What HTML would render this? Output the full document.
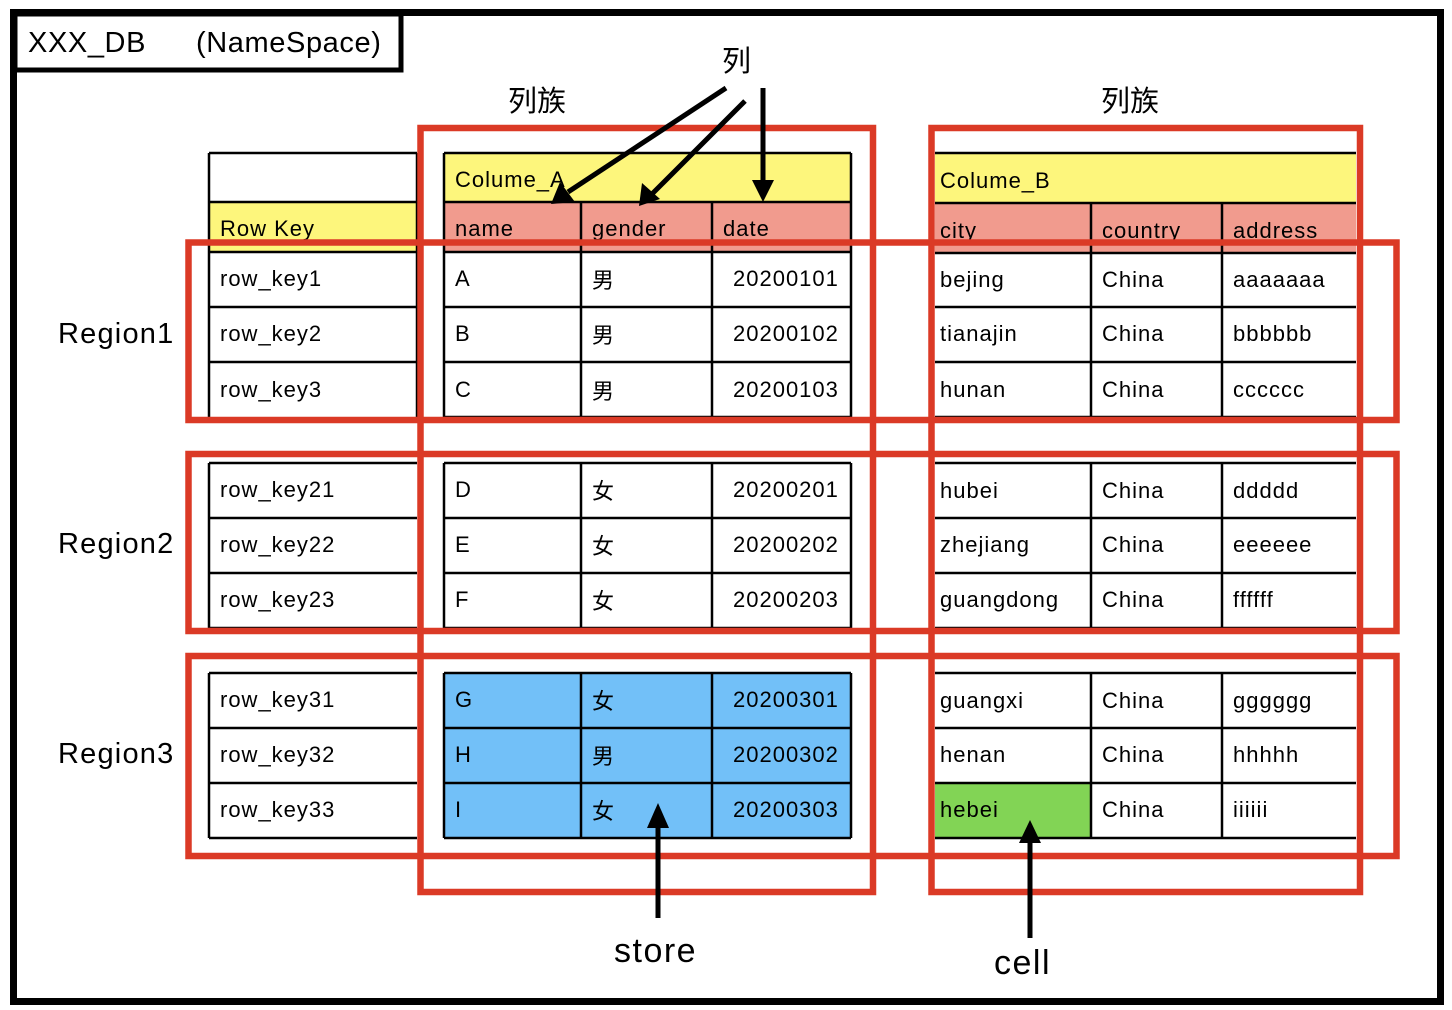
<!DOCTYPE html>
<html><head><meta charset="utf-8"><style>
html,body{margin:0;padding:0;background:#fff;}
svg{display:block;}
text{font-family:"Liberation Sans","Noto Sans CJK SC",sans-serif;fill:#000;}
</style></head><body>
<svg width="1452" height="1010" viewBox="0 0 1452 1010" xmlns="http://www.w3.org/2000/svg">
<rect x="0" y="0" width="1452" height="1010" fill="#fff"/>
<rect x="13.5" y="12.5" width="1427" height="989" fill="none" stroke="#000" stroke-width="7"/>
<rect x="15" y="14" width="386" height="56" fill="none" stroke="#000" stroke-width="5"/>
<text x="28" y="52" font-size="29" letter-spacing="0.6">XXX_DB</text>
<text x="196" y="52" font-size="29" letter-spacing="0.6">(NameSpace)</text>

<rect x="209" y="202" width="208" height="50" fill="#fdf67c"/>
<rect x="444" y="153" width="407" height="49" fill="#fdf67c"/>
<rect x="444" y="202" width="407" height="50" fill="#f19b8e"/>
<rect x="935" y="153" width="421" height="50" fill="#fdf67c"/>
<rect x="935" y="203" width="421" height="50" fill="#f19b8e"/>
<rect x="444" y="673" width="407" height="165" fill="#72c0f8"/>
<rect x="935" y="783" width="156" height="55" fill="#82d455"/>

<g stroke="#000" stroke-width="2.5" fill="none">
<path d="M209 153H417M209 202H417M209 252H417M209 307H417M209 362H417M209 153V417M417 153V417"/>
<path d="M209 463H417M209 518H417M209 573H417M209 628H417M209 463V628"/>
<path d="M209 673H417M209 728H417M209 783H417M209 838H417M209 673V838"/>
<path d="M444 153H851M444 202H851M444 252H851M444 307H851M444 362H851M444 417H851M444 153V417M581 202V417M712 202V417M851 153V417"/>
<path d="M444 463H851M444 518H851M444 573H851M444 628H851M444 463V628M581 463V628M712 463V628M851 463V628"/>
<path d="M444 673H851M444 728H851M444 783H851M444 838H851M444 673V838M581 673V838M712 673V838M851 673V838"/>
<path d="M935 153H1356M935 203H1356M935 253H1356M935 307H1356M935 362H1356M935 417H1356M1091 203V417M1222 203V417"/>
<path d="M935 463H1356M935 518H1356M935 573H1356M935 628H1356M1091 463V628M1222 463V628"/>
<path d="M935 673H1356M935 728H1356M935 783H1356M935 838H1356M1091 673V838M1222 673V838"/>
</g>

<g font-size="22" letter-spacing="1">
<text x="220" y="236">Row Key</text>
<text x="455" y="187">Colume_A</text>
<text x="455" y="236">name</text><text x="592" y="236">gender</text><text x="723" y="236">date</text>
<text x="940" y="188">Colume_B</text>
<text x="940" y="238">city</text><text x="1102" y="238">country</text><text x="1233" y="238">address</text>

<text x="220" y="286">row_key1</text><text x="220" y="341">row_key2</text><text x="220" y="397">row_key3</text>
<text x="220" y="497">row_key21</text><text x="220" y="552">row_key22</text><text x="220" y="607">row_key23</text>
<text x="220" y="707">row_key31</text><text x="220" y="762">row_key32</text><text x="220" y="817">row_key33</text>

<text x="455" y="286">A</text><text x="455" y="341">B</text><text x="455" y="397">C</text>
<text x="455" y="497">D</text><text x="455" y="552">E</text><text x="455" y="607">F</text>
<text x="455" y="707">G</text><text x="455" y="762">H</text><text x="455" y="817">I</text>

<text x="592" y="288">男</text><text x="592" y="343">男</text><text x="592" y="399">男</text>
<text x="592" y="499">女</text><text x="592" y="554">女</text><text x="592" y="609">女</text>
<text x="592" y="709">女</text><text x="592" y="764">男</text><text x="592" y="819">女</text>

<text x="733" y="286">20200101</text><text x="733" y="341">20200102</text><text x="733" y="397">20200103</text>
<text x="733" y="497">20200201</text><text x="733" y="552">20200202</text><text x="733" y="607">20200203</text>
<text x="733" y="707">20200301</text><text x="733" y="762">20200302</text><text x="733" y="817">20200303</text>

<text x="940" y="287">bejing</text><text x="940" y="341">tianajin</text><text x="940" y="397">hunan</text>
<text x="940" y="498">hubei</text><text x="940" y="552">zhejiang</text><text x="940" y="607">guangdong</text>
<text x="940" y="708">guangxi</text><text x="940" y="762">henan</text><text x="940" y="817">hebei</text>
<text x="1102" y="287">China</text><text x="1102" y="341">China</text><text x="1102" y="397">China</text>
<text x="1102" y="498">China</text><text x="1102" y="552">China</text><text x="1102" y="607">China</text>
<text x="1102" y="708">China</text><text x="1102" y="762">China</text><text x="1102" y="817">China</text>
<text x="1233" y="287">aaaaaaa</text><text x="1233" y="341">bbbbbb</text><text x="1233" y="397">cccccc</text>
<text x="1233" y="498">ddddd</text><text x="1233" y="552">eeeeee</text><text x="1233" y="607">ffffff</text>
<text x="1233" y="708">gggggg</text><text x="1233" y="762">hhhhh</text><text x="1233" y="817">iiiiii</text>
</g>

<g font-size="29">
<text x="58" y="343" letter-spacing="1.2">Region1</text>
<text x="58" y="553" letter-spacing="1.2">Region2</text>
<text x="58" y="763" letter-spacing="1.2">Region3</text>
<text x="508" y="111">列族</text>
<text x="1101" y="111">列族</text>
<text x="722" y="71">列</text>
</g>
<text x="614" y="962" font-size="34" letter-spacing="1.5">store</text>
<text x="994" y="974" font-size="34" letter-spacing="1.5">cell</text>

<g stroke="#db3a26" stroke-width="6.5" fill="none">
<rect x="420.5" y="128" width="452.5" height="764"/>
<rect x="931.5" y="128" width="428.5" height="764"/>
<rect x="188.5" y="242.5" width="1208" height="177.5"/>
<rect x="188.5" y="454" width="1208" height="177"/>
<rect x="188.5" y="656" width="1208" height="200"/>
</g>

<g stroke="#000" stroke-width="5" fill="none">
<line x1="726" y1="88" x2="568" y2="192"/>
<line x1="745" y1="101" x2="652" y2="194"/>
<line x1="763" y1="88" x2="763" y2="182"/>
<line x1="658" y1="918" x2="658" y2="824"/>
<line x1="1030" y1="938" x2="1030" y2="838"/>
</g>
<g fill="#000">
<polygon points="551,204 560,182 575,202"/>
<polygon points="639,206 642,183 660,199"/>
<polygon points="752,180 774,180 763,202"/>
<polygon points="647,828 669,828 658,803"/>
<polygon points="1019,843 1041,843 1030,820"/>
</g>
</svg>
</body></html>
